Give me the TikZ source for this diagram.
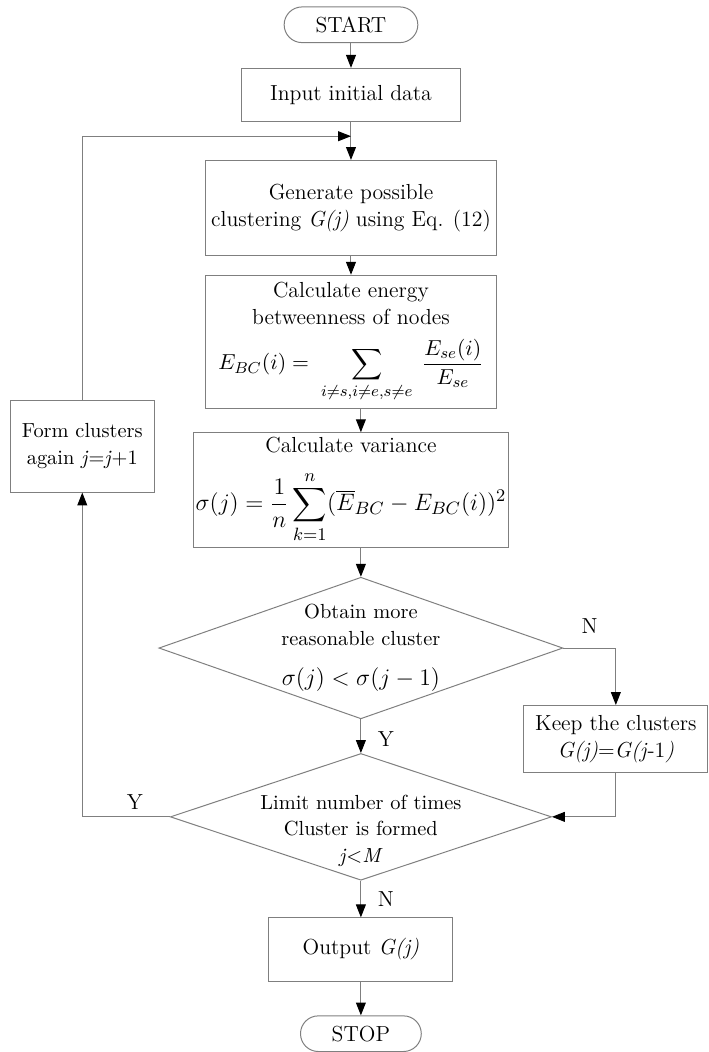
\documentclass[tikz,border=0pt]{standalone}
\usepackage{fontspec}
\usepackage{amsmath}
\usetikzlibrary{
  shapes.geometric,
  arrows.meta,
  positioning,
  calc
}
\definecolor{LineGray}{HTML}{7F7F7F}
\tikzset{
  % Process box: fixed size
  stepbox/.style={
    rectangle, draw=LineGray, line width=0.5pt,
    inner sep=1pt, align=center,
    font=\fontsize{11}{13.5}\selectfont
  },
  % Start / stop terminal
  term/.style={
    rectangle, rounded corners=9pt, draw=LineGray, line width=0.5pt,
    minimum height=18pt, inner sep=1pt,
    font=\fontsize{11}{13.5}\selectfont
  },
  % Decision diamond (text is set as a centre label)
  dec/.style={
    diamond, draw=LineGray, line width=0.5pt, inner sep=0pt
  },
  dectext/.style={align=center, font=\fontsize{10.3}{13.5}\selectfont},
  % Arrow
  arr/.style={
    -{Triangle[length=6.5pt,width=5pt,color=black]},
    draw=LineGray, line width=0.5pt
  },
  % Y / N label
  lbl/.style={font=\fontsize{11}{13.5}\selectfont}
}
\begin{document}
\begin{tikzpicture}

  % Main column
  \node[term, minimum width=67.5pt] (start) {START};
  \node[stepbox, minimum width=110.5pt, minimum height=27pt, below=12.5pt of start] (input) {Input initial data};
  \node[stepbox, minimum width=147pt, minimum height=48pt, below=19pt of input] (gen)
    {Generate possible\\clustering \textit{G(j)} using Eq. (12)};
  \node[stepbox, minimum width=146.5pt, minimum height=67.5pt, below=9.5pt of gen] (energy)
    {Calculate energy\\betweenness of nodes\\[6pt]
     $\displaystyle E_{BC}(i)=\;\sum_{i\neq s,i\neq e,s\neq e}\;\frac{E_{se}(i)}{E_{se}}$};
  \node[stepbox, minimum width=157.5pt, minimum height=58pt, below=11.5pt of energy] (var)
    {Calculate variance\\[8pt]
     {\fontsize{12.5}{15}\selectfont$\displaystyle \sigma(j)=\frac{1}{n}\sum_{k=1}^{n}(\overline{E}_{BC}-E_{BC}(i))^2$}};

  % Decisions
  \node[dec, minimum width=204pt, minimum height=71.5pt, below=14.5pt of var, xshift=5pt,
        label={[dectext]center:{Obtain more\\reasonable cluster\\[7pt]{\fontsize{13}{15}\selectfont$\sigma(j)<\sigma(j-1)$}}}] (dec1) {};
  \node[dec, minimum width=192.5pt, minimum height=64pt, below=17pt of dec1,
        label={[dectext, yshift=-7pt]center:{Limit number of times\\Cluster is formed\\\textit{j}<\textit{M}}}] (dec2) {};

  \node[stepbox, minimum width=93pt, minimum height=32pt, below=18.5pt of dec2] (out) {Output \textit{G(j)}};
  \node[term, minimum width=61pt, below=17pt of out] (stop) {STOP};

  % Side boxes
  \node[stepbox, minimum width=93pt, minimum height=34pt, below=28.75pt of dec1.east, xshift=26.5pt, anchor=north] (keep)
    {Keep the clusters\\\textit{G(j)}=\textit{G(j}-1\textit{)}};
  \node[stepbox, minimum width=72.5pt, minimum height=46.5pt, left=19.5pt of var, yshift=22.25pt,
        font=\fontsize{10.3}{14}\selectfont] (form)
    {Form clusters\\again \textit{j}=\textit{j}+1};

  \coordinate (join) at ($(input.south)!0.37!(gen.north)$);

  \draw[arr] (start) -- (input);
  \draw[arr] (input) -- (gen);
  \draw[arr] (gen) -- (energy);
  \draw[arr] (energy.south -| dec1.north) -- (var.north -| dec1.north);
  \draw[arr] (var.south -| dec1.north) -- (dec1.north);
  \draw[arr] (dec1.south) -- node[lbl, right=5pt, pos=0.6]{Y} (dec2.north);
  \draw[arr] (dec2.south) -- node[lbl, right=5pt]{N} (out.north);
  \draw[arr] (out) -- (stop);
  \draw[arr] (dec1.east) -| node[lbl, above=4pt, pos=0.25]{N} (keep.north);
  \draw[arr] (keep.south) |- (dec2.east);
  \draw[arr] (dec2.west) -| node[lbl, above, pos=0.2]{Y} (form.south);
  \draw[arr] (form.north) |- (join);

  \useasboundingbox ($(start.center)+(-177.25pt,12.5pt)$) rectangle ($(start.center)+(174.75pt,-513.5pt)$);

\end{tikzpicture}
\end{document}
